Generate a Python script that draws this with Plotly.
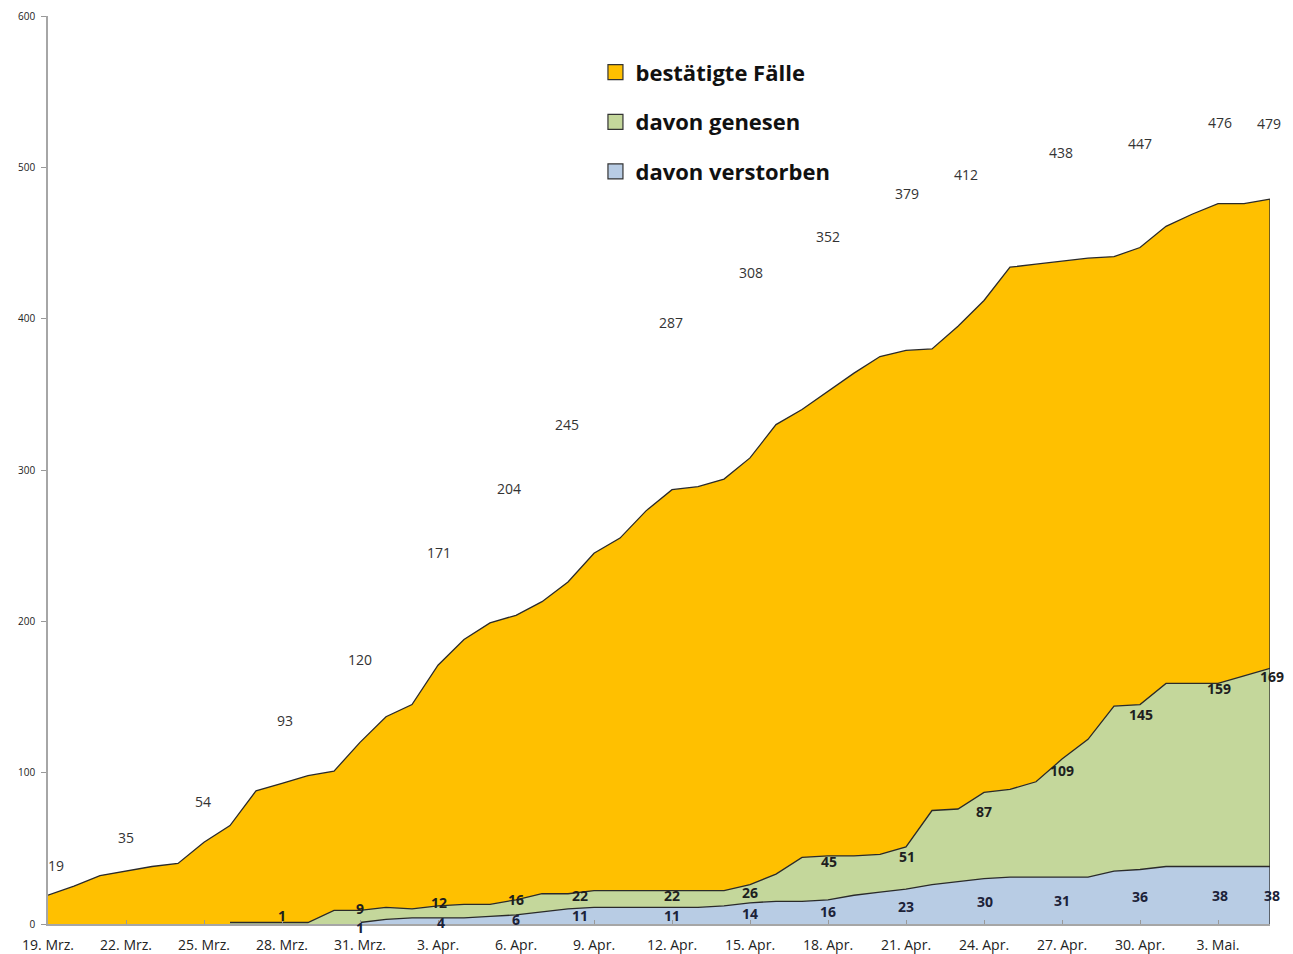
import pandas as pd
import plotly.graph_objects as go

# ---------------- data ----------------
start_date = "2020-03-19"
n_days = 48
dates = [d.strftime("%Y-%m-%d") for d in pd.date_range(start_date, periods=n_days, freq="D")]

tick_labels = ["19. Mrz.", "22. Mrz.", "25. Mrz.", "28. Mrz.", "31. Mrz.", "3. Apr.",
               "6. Apr.", "9. Apr.", "12. Apr.", "15. Apr.", "18. Apr.", "21. Apr.",
               "24. Apr.", "27. Apr.", "30. Apr.", "3. Mai."]

confirmed = [19, 25, 32, 35, 38, 40, 54, 65, 88, 93, 98, 101, 120, 137, 145, 171,
             188, 199, 204, 213, 226, 245, 255, 273, 287, 289, 294, 308, 330, 340,
             352, 364, 375, 379, 380, 395, 412, 434, 436, 438, 440, 441, 447, 461,
             469, 476, 476, 479]

recovered_start = 7   # first day index with recovered data
recovered = [1, 1, 1, 1, 9, 9, 11, 10, 12, 13, 13, 16, 20, 20, 22, 22, 22, 22, 22, 22,
             26, 33, 44, 45, 45, 46, 51, 75, 76, 87, 89, 94, 109, 122, 144, 145, 159,
             159, 159, 164, 169]

deaths_start = 12     # first day index with death data
deaths = [1, 3, 4, 4, 4, 5, 6, 8, 10, 11, 11, 11, 11, 11, 12, 14, 15, 15, 16, 19, 21,
          23, 26, 28, 30, 31, 31, 31, 31, 35, 36, 38, 38, 38, 38, 38]

series_names = ["bestätigte Fälle", "davon genesen", "davon verstorben"]

# day indices that carry a data label
confirmed_label_days = [0, 3, 6, 9, 12, 15, 18, 21, 24, 27, 30, 33, 36, 39, 42, 45, 47]
recovered_label_days = [9, 12, 15, 18, 21, 24, 27, 30, 33, 36, 39, 42, 45, 47]
deaths_label_days = [12, 15, 18, 21, 24, 27, 30, 33, 36, 39, 42, 45, 47]

# ---------------- styling ----------------
c_conf = "#FFC000"
c_rec = "#C4D79B"
c_dead = "#B8CCE4"
c_line = "#2a2a2a"
font_family = "'Open Sans', Lato, sans-serif"

# pixel offsets of the (manually placed) data labels
conf_dy_px = [30, 34, 41, 63, 83, 113, 127, 129, 167, 185, 155, 157, 126, 109, 104, 81, 76]
conf_dx_px = [8, 0, -1, 3, 0, 1, -7, -27, -1, 1, 0, 1, -18, -1, 0, 2, -1]
rec_dy_px = [7, 2, 3, 0, -5, -5, -8, -6, -10, -19, -11, -10, -5, -8]
rec_dx_px = [0, 0, 1, 0, -14, 0, 0, 1, 1, 0, 0, 1, 1, 2]
dead_dy_px = [-4, -2, 0, 0, 0, 0, 0, 0, 0, 0, 0, 0, 0]
dead_dx_px = [0, 3, 0, -14, 0, 0, 0, 0, 1, 0, 0, 2, 2]

rec_x = dates[recovered_start:]
dead_x = dates[deaths_start:]

fig = go.Figure()

fig.add_trace(go.Scatter(x=dates, y=confirmed, mode="lines", fill="tozeroy",
                         fillcolor=c_conf, line=dict(color=c_line, width=1.3),
                         showlegend=False, hoverinfo="skip"))
fig.add_trace(go.Scatter(x=rec_x, y=recovered, mode="lines", fill="tozeroy",
                         fillcolor=c_rec, line=dict(color=c_line, width=1.3),
                         showlegend=False, hoverinfo="skip"))
fig.add_trace(go.Scatter(x=dead_x, y=deaths, mode="lines", fill="tozeroy",
                         fillcolor=c_dead, line=dict(color=c_line, width=1.3),
                         showlegend=False, hoverinfo="skip"))

# right closing edge of the areas
fig.add_trace(go.Scatter(x=[dates[-1], dates[-1]], y=[0, confirmed[-1]], mode="lines",
                         line=dict(color=c_line, width=1.3), showlegend=False,
                         hoverinfo="skip"))

# legend entries (square swatches)
for name, col in zip(series_names, [c_conf, c_rec, c_dead]):
    fig.add_trace(go.Scatter(x=[None], y=[None], mode="markers", name=name,
                             legendgroup=name,
                             marker=dict(symbol="square", size=15, color=col,
                                         line=dict(color="#333333", width=1.2))))

annotations = []
# confirmed labels (normal weight, above the curve)
for i, d in enumerate(confirmed_label_days):
    annotations.append(dict(x=dates[d], y=confirmed[d], text=str(confirmed[d]),
                            showarrow=False, xshift=conf_dx_px[i], yshift=conf_dy_px[i],
                            font=dict(family=font_family, size=14, color="#333333")))
# recovered labels (bold, just below the line)
for i, d in enumerate(recovered_label_days):
    v = recovered[d - recovered_start]
    annotations.append(dict(x=dates[d], y=v, text=str(v), showarrow=False,
                            xshift=rec_dx_px[i], yshift=rec_dy_px[i],
                            font=dict(family=font_family, size=14, color="#1e1e1e",
                                      weight="bold")))
# deaths labels (bold, centred in the area)
for i, d in enumerate(deaths_label_days):
    v = deaths[d - deaths_start]
    annotations.append(dict(x=dates[d], y=v / 2, text=str(v), showarrow=False,
                            xshift=dead_dx_px[i], yshift=dead_dy_px[i],
                            font=dict(family=font_family, size=14, color="#1c2238",
                                      weight="bold")))

# the page body adds an 8 px margin, so the figure is 8 px smaller on each side
fig.update_layout(
    width=1285, height=946,
    margin=dict(l=40, r=23, t=8, b=30, autoexpand=False),
    paper_bgcolor="white", plot_bgcolor="white",
    font=dict(family=font_family, color="#222222"),
    annotations=annotations,
    showlegend=True,
    legend=dict(x=0.448, y=0.961, xanchor="left", yanchor="top",
                bgcolor="rgba(0,0,0,0)", tracegroupgap=18,
                font=dict(family=font_family, size=22, color="#111111", weight="bold")),
    xaxis=dict(type="date", range=[dates[0], dates[-1]], automargin=False,
               tickvals=dates[::3], ticktext=tick_labels,
               ticks="inside", ticklen=4, tickcolor="#999999",
               showline=True, linecolor="#a6a6a6", linewidth=1.5,
               showgrid=False, zeroline=False,
               tickfont=dict(family=font_family, size=14, color="#222222"),
               ticklabelstandoff=7),
    yaxis=dict(range=[0, 600], tickvals=[0, 100, 200, 300, 400, 500, 600], automargin=False,
               ticks="outside", ticklen=5, tickcolor="#999999",
               showline=True, linecolor="#a6a6a6", linewidth=1.5,
               showgrid=False, zeroline=False,
               tickfont=dict(family=font_family, size=10, color="#222222"),
               ticklabelstandoff=4),
)

fig.write_html("out.html")
